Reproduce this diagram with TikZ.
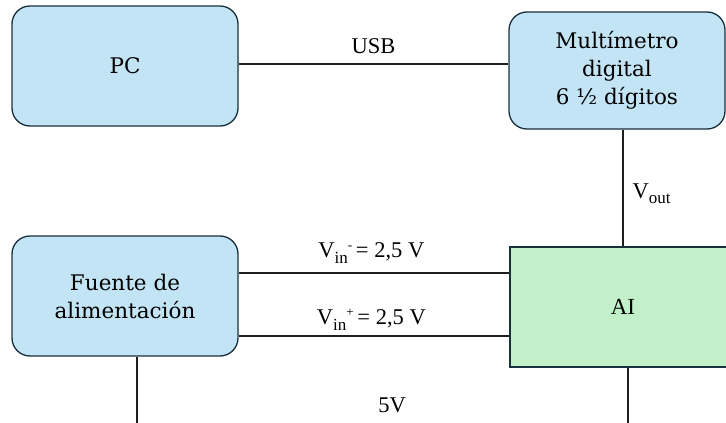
\documentclass[tikz,border=0pt]{standalone}
\usepackage{fontspec}
\setmainfont{Liberation Serif}
\newfontfamily\boxfont{DejaVu Serif}
\definecolor{boxblue}{RGB}{194,228,244}
\definecolor{boxgreen}{RGB}{194,240,200}
\definecolor{edgedark}{RGB}{24,48,62}
\definecolor{wire}{RGB}{30,30,30}
% subscript and superscript at the sizes used in the labels
\newcommand{\lowtxt}[1]{\raisebox{-5.5pt}{\fontsize{17}{17}\selectfont #1}}
\newcommand{\hightxt}[1]{\raisebox{8pt}{\fontsize{13}{13}\selectfont #1}}
\tikzset{
  block/.style={draw=edgedark, line width=1.3pt, fill=boxblue, rounded corners=18pt,
    minimum width=226pt, minimum height=120pt, align=center, inner sep=0pt,
    font=\boxfont\fontsize{21.5}{28}\selectfont},
  aiblock/.style={draw=edgedark, line width=1.1pt, fill=boxgreen,
    minimum width=226pt, minimum height=120pt, inner sep=0pt,
    font=\fontsize{23}{28}\selectfont},
  conn/.style={draw=wire, line width=1.2pt},
  lbl/.style={inner sep=0pt, font=\fontsize{22.5}{26}\selectfont}
}
\begin{document}
\begin{tikzpicture}[x=1pt, y=-1pt]
  \useasboundingbox (0,0) rectangle (726,423);
  \begin{scope}
    \clip (0,0) rectangle (726,423);
    % blocks
    \node[block] (pc) at (125,66) {PC};
    \node[block, minimum width=216pt, minimum height=117pt] (mm) at (617,70.5)
      {Multímetro\\digital\\6 ½ dígitos};
    \node[block] (ps) at (125,296) {Fuente de\\alimentación};
    \node[aiblock] (ai) at (623,307) {AI};
    % free ends at the lower border
    \coordinate (psend) at (137,423);
    \coordinate (aiend) at (628,423);
    % connectors
    \draw[conn] (pc.east |- 0,64) -- (mm.west |- 0,64)
      node[lbl, pos=0.5, above=10pt] {USB};
    \draw[conn] (mm.south -| 623,0) -- (ai.north -| 623,0)
      node[lbl, pos=0.55, right=9pt] {V\lowtxt{out}};
    \draw[conn] (ps.east |- 0,273) -- (ai.west |- 0,273)
      node[lbl, pos=0.49, above=9pt] {V\lowtxt{in}\hightxt{-}\,= 2,5 V};
    \draw[conn] (ps.east |- 0,336) -- (ai.west |- 0,336)
      node[lbl, pos=0.49, above=5pt] {V\lowtxt{in}\hightxt{+}\,= 2,5 V};
    \draw[conn] (ps.south -| psend) -- (psend);
    \draw[conn] (ai.south -| aiend) -- (aiend);
    \node[lbl] (fivev) at (392,405) {5V};
  \end{scope}
\end{tikzpicture}
\end{document}
